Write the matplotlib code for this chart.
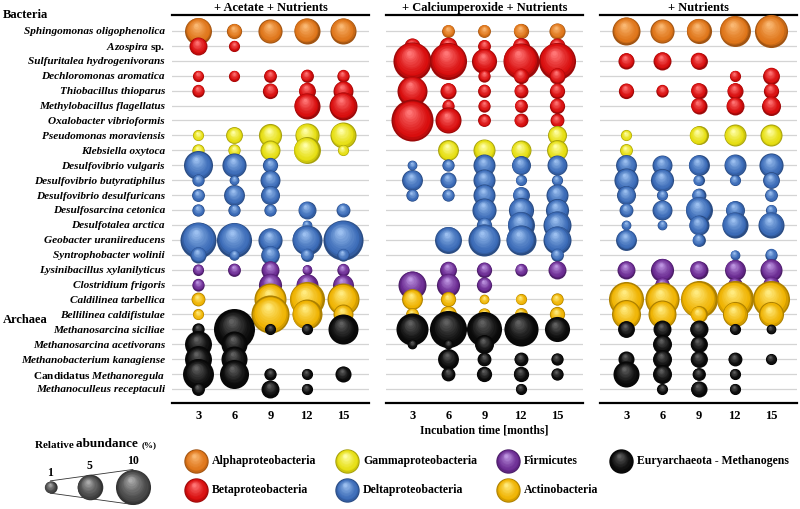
import numpy as np
import matplotlib
matplotlib.use("Agg")
import matplotlib.pyplot as plt
import matplotlib.colors as mcolors
from matplotlib.transforms import ScaledTranslation, blended_transform_factory

plt.rcParams['font.family'] = ['Liberation Serif', 'DejaVu Serif']
plt.rcParams['mathtext.fontset'] = 'custom'
plt.rcParams['mathtext.it'] = 'Liberation Serif:italic:bold'
plt.rcParams['mathtext.rm'] = 'Liberation Serif:bold'
plt.rcParams['mathtext.bf'] = 'Liberation Serif:bold'

# ---------------------------------------------------------------- data
months = [3, 6, 9, 12, 15]

species = [
    'Sphingomonas oligophenolica', r'$\mathit{Azospira}$ sp.',
    'Sulfuritalea hydrogenivorans', 'Dechloromonas aromatica',
    'Thiobacillus thioparus', 'Methylobacillus flagellatus',
    'Oxalobacter vibrioformis', 'Pseudomonas moraviensis',
    'Klebsiella oxytoca', 'Desulfovibrio vulgaris',
    'Desulfovibrio butyratiphilus', 'Desulfovibrio desulfuricans',
    'Desulfosarcina cetonica', 'Desulfotalea arctica',
    'Geobacter uraniireducens', 'Syntrophobacter wolinii',
    'Lysinibacillus xylanilyticus', 'Clostridium frigoris',
    'Caldilinea tarbellica', 'Bellilinea caldifistulae',
    'Methanosarcina siciliae', 'Methanosarcina acetivorans',
    'Methanobacterium kanagiense', r'Candidatus $\mathit{Methanoregula}$',
    'Methanoculleus receptaculi',
]

groups = (['Alphaproteobacteria'] + ['Betaproteobacteria'] * 6 +
          ['Gammaproteobacteria'] * 2 + ['Deltaproteobacteria'] * 7 +
          ['Firmicutes'] * 2 + ['Actinobacteria'] * 2 +
          ['Euryarchaeota - Methanogens'] * 5)

# relative abundance (%) per species, columns = 3, 6, 9, 12, 15 months
acetate = [
    [5.6, 1.6, 4.4, 5.2, 5.2],
    [2.3, 0.8, 0, 0, 0],
    [0, 0, 0, 0, 0],
    [0.8, 0.8, 1.1, 1.1, 1.0],
    [1.0, 0, 1.6, 2.0, 2.9],
    [0, 0, 0, 5.2, 6.1],
    [0, 0, 0, 0, 0],
    [0.8, 2.0, 4.0, 4.4, 5.2],
    [1.0, 1.0, 2.9, 5.6, 0.8],
    [6.6, 4.4, 1.6, 0, 0],
    [1.0, 0.6, 2.9, 0, 0],
    [1.1, 3.2, 2.6, 0, 0],
    [1.0, 1.0, 1.0, 2.3, 1.3],
    [0, 0, 0, 0.6, 0],
    [10.6, 10.0, 4.4, 7.1, 13.4],
    [1.8, 0.7, 2.5, 1.1, 1.0],
    [0.8, 1.1, 2.3, 0.6, 1.0],
    [1.0, 0, 4.0, 3.6, 3.2],
    [1.3, 0, 8.2, 10.0, 8.2],
    [0.8, 0, 12.0, 7.1, 2.9],
    [1.0, 14.1, 0.8, 0.8, 7.1],
    [5.6, 5.2, 0, 0, 0],
    [5.6, 5.2, 0, 0, 0],
    [7.6, 6.6, 1.0, 0.8, 1.8],
    [1.1, 0, 2.3, 0.8, 0],
]

peroxide = [
    [0, 1.1, 1.1, 1.6, 1.8],
    [1.8, 2.3, 1.1, 2.0, 1.8],
    [12.0, 11.3, 4.8, 10.6, 11.3],
    [0, 0, 1.0, 1.6, 1.8],
    [7.1, 1.8, 1.1, 1.3, 1.6],
    [0, 1.0, 1.0, 1.1, 1.6],
    [14.9, 5.2, 1.1, 1.3, 1.3],
    [0, 0, 0, 0, 2.6],
    [0, 3.2, 3.6, 2.9, 3.2],
    [0.6, 1.0, 3.6, 2.6, 2.9],
    [3.2, 1.8, 3.6, 0.8, 0.8],
    [1.0, 1.0, 3.6, 2.0, 3.6],
    [0, 0, 4.4, 4.8, 4.0],
    [0, 0, 1.6, 5.6, 6.1],
    [0, 5.6, 8.2, 7.1, 6.1],
    [0, 0, 0, 0, 1.1],
    [0, 2.0, 1.6, 1.0, 2.3],
    [6.1, 4.0, 1.6, 0, 0],
    [3.2, 1.6, 0.6, 0.8, 1.0],
    [1.1, 2.0, 1.0, 1.1, 1.6],
    [8.2, 11.3, 10.0, 9.4, 4.8],
    [0.6, 0.6, 2.6, 0, 0],
    [0, 3.2, 1.3, 1.3, 1.0],
    [0, 1.3, 1.6, 1.6, 1.0],
    [0, 0, 0, 0.8, 0],
]

nutrients = [
    [6.1, 4.4, 4.8, 7.6, 8.8],
    [0, 0, 0, 0, 0],
    [1.8, 2.3, 2.0, 0, 0],
    [0, 0, 0, 0.8, 2.0],
    [1.6, 1.0, 1.8, 1.8, 1.6],
    [0, 0, 1.8, 2.3, 2.6],
    [0, 0, 0, 0, 0],
    [0.8, 0, 2.6, 3.6, 3.6],
    [1.1, 0, 0, 0, 0],
    [3.2, 2.9, 3.2, 3.6, 4.4],
    [4.4, 4.0, 0.8, 0.8, 2.0],
    [2.6, 0.8, 1.3, 0, 1.1],
    [1.3, 2.9, 5.6, 2.6, 0.8],
    [0.6, 0.6, 2.9, 5.2, 5.2],
    [3.2, 0, 1.1, 0, 0],
    [0, 0, 0, 0.6, 1.0],
    [2.3, 4.0, 2.3, 3.2, 3.6],
    [0, 1.5, 0, 1.5, 2.0],
    [10.0, 9.4, 11.3, 11.3, 11.3],
    [6.6, 6.1, 2.0, 4.8, 4.8],
    [2.0, 2.3, 2.3, 0.8, 0.6],
    [0, 2.6, 2.0, 0, 0],
    [1.8, 2.6, 2.0, 1.3, 0.8],
    [5.2, 2.6, 1.1, 0.8, 0],
    [0, 0.8, 1.8, 0.8, 0],
]

panels = [('+ Acetate + Nutrients', acetate),
          ('+ Calciumperoxide + Nutrients', peroxide),
          ('+ Nutrients', nutrients)]

size_legend = [1, 5, 10]

# base colour, highlight colour
palette = {
    'Alphaproteobacteria': ('#DF7519', '#FAB873'),
    'Betaproteobacteria': ('#D80D0D', '#FF7676'),
    'Gammaproteobacteria': ('#E6DE10', '#FFFFA8'),
    'Deltaproteobacteria': ('#3A6AB6', '#9CC0F0'),
    'Firmicutes': ('#6A2A91', '#BE96E2'),
    'Actinobacteria': ('#EFB200', '#FFEB80'),
    'Euryarchaeota - Methanogens': ('#0A0A0A', '#606060'),
    'scale': ('#474747', '#ABABAB'),
}

fig = plt.figure(figsize=(8, 5.09), dpi=100)


def diameter(value):
    # bubble diameter in points (pixel diameter ~ 12.3 * v^0.455)
    return 12.3 * value ** 0.455 * 0.72


def sphere(ax, x, y, value, colors, z):
    d = diameter(value)
    base = np.array(mcolors.to_rgb(colors[0]))
    light = np.array(mcolors.to_rgb(colors[1]))
    dark = base * 0.72
    n = 12
    for k in range(n):
        t = k / (n - 1)
        f = 1 - 0.88 * t
        if t < 0.15:
            c = dark + (base - dark) * (t / 0.15)
        else:
            c = base + (light - base) * ((t - 0.15) / 0.85) ** 1.3
        shift = (1 - f) * d / 2 * 0.55
        off = ScaledTranslation(-0.3 * shift / 72, 0.85 * shift / 72,
                                fig.dpi_scale_trans)
        ax.scatter([x], [y], s=(d * f) ** 2, color=[c], linewidths=0,
                   zorder=z + k * 0.001, transform=ax.transData + off,
                   clip_on=False)


W, H = 800, 509
lefts = [172, 386, 600]
axes = []
for i, (title, values) in enumerate(panels):
    ax = fig.add_axes([lefts[i] / W, 1 - 403 / H, 197 / W, 388 / H])
    axes.append(ax)
    ax.set_xlim(0.83, 17.17)
    ax.set_ylim(24.94, -1.07)
    ax.set_yticks(range(len(species)))
    ax.yaxis.grid(True, color='#d4d4d4', lw=0.9)
    ax.set_axisbelow(True)
    ax.set_xticks(months)
    ax.set_xticklabels([str(m) for m in months], fontsize=9, fontweight='bold')
    ax.tick_params(length=0)
    ax.tick_params(axis='x', pad=5)
    for side in ('left', 'right'):
        ax.spines[side].set_visible(False)
    for side in ('top', 'bottom'):
        ax.spines[side].set_linewidth(1.6)
    ax.set_title(title, fontsize=9, fontweight='bold', pad=3)

    for r, row in enumerate(values):
        for c, v in enumerate(row):
            if v > 0:
                sphere(ax, months[c], r, v, palette[groups[r]], 3 + r * 0.1)

    if i == 0:
        ax.set_yticklabels(species, fontsize=8.1, fontweight='bold')
        ax.tick_params(axis='y', pad=5)
        for lbl in ax.get_yticklabels():
            if '$' not in lbl.get_text():
                lbl.set_fontstyle('italic')
    else:
        ax.set_yticklabels([])

axes[1].set_xlabel('Incubation time [months]', fontsize=8.5,
                   fontweight='bold', labelpad=2)

tr = blended_transform_factory(fig.transFigure, axes[0].transData)
fig.text(3 / W, -1.05, 'Bacteria', transform=tr, fontsize=9,
         fontweight='bold', va='center')
fig.text(3 / W, 19.4, 'Archaea', transform=tr, fontsize=9,
         fontweight='bold', va='center')

# ---------------------------------------------------------------- legend
lg = fig.add_axes([0, 0, 1, 100 / H])
lg.set_xlim(0, W)
lg.set_ylim(H, H - 100)
lg.axis('off')

t1 = lg.text(35, 448, 'Relative ', fontsize=8, fontweight='bold',
             va='baseline')
t2 = lg.annotate('abundance ', xy=(1, 0), xycoords=t1, va='bottom',
                 fontsize=9.5, fontweight='bold')
lg.annotate('(%)', xy=(1, 0.1), xycoords=t2, va='bottom', fontsize=6.5,
            fontweight='bold')

scale_x = [50.5, 89.5, 133]
scale_y = 487
r_px = [12.3 * v ** 0.455 / 2 for v in size_legend]
lg.plot([scale_x[0], scale_x[-1]], [scale_y - r_px[0], scale_y - r_px[-1]],
        color='#333333', lw=0.6, zorder=1)
lg.plot([scale_x[0], scale_x[-1]], [scale_y + r_px[0], scale_y + r_px[-1]],
        color='#333333', lw=0.6, zorder=1)
for xs, v, rp in zip(scale_x, size_legend, r_px):
    sphere(lg, xs, scale_y, v, palette['scale'], 3)
    lg.text(xs, scale_y - rp - 2, str(v), ha='center', va='bottom',
            fontsize=8.5, fontweight='bold')

legend_items = [
    ('Alphaproteobacteria', 196, 461), ('Betaproteobacteria', 196, 490),
    ('Gammaproteobacteria', 347, 461), ('Deltaproteobacteria', 347, 490),
    ('Firmicutes', 508, 461), ('Actinobacteria', 508, 490),
    ('Euryarchaeota - Methanogens', 621, 461),
]
for name, lx, ly in legend_items:
    sphere(lg, lx, ly, 4.5, palette[name], 3)
    lg.text(lx + 16, ly, name, fontsize=8.5, fontweight='bold', va='center')

fig.savefig('out.png', dpi=100)
